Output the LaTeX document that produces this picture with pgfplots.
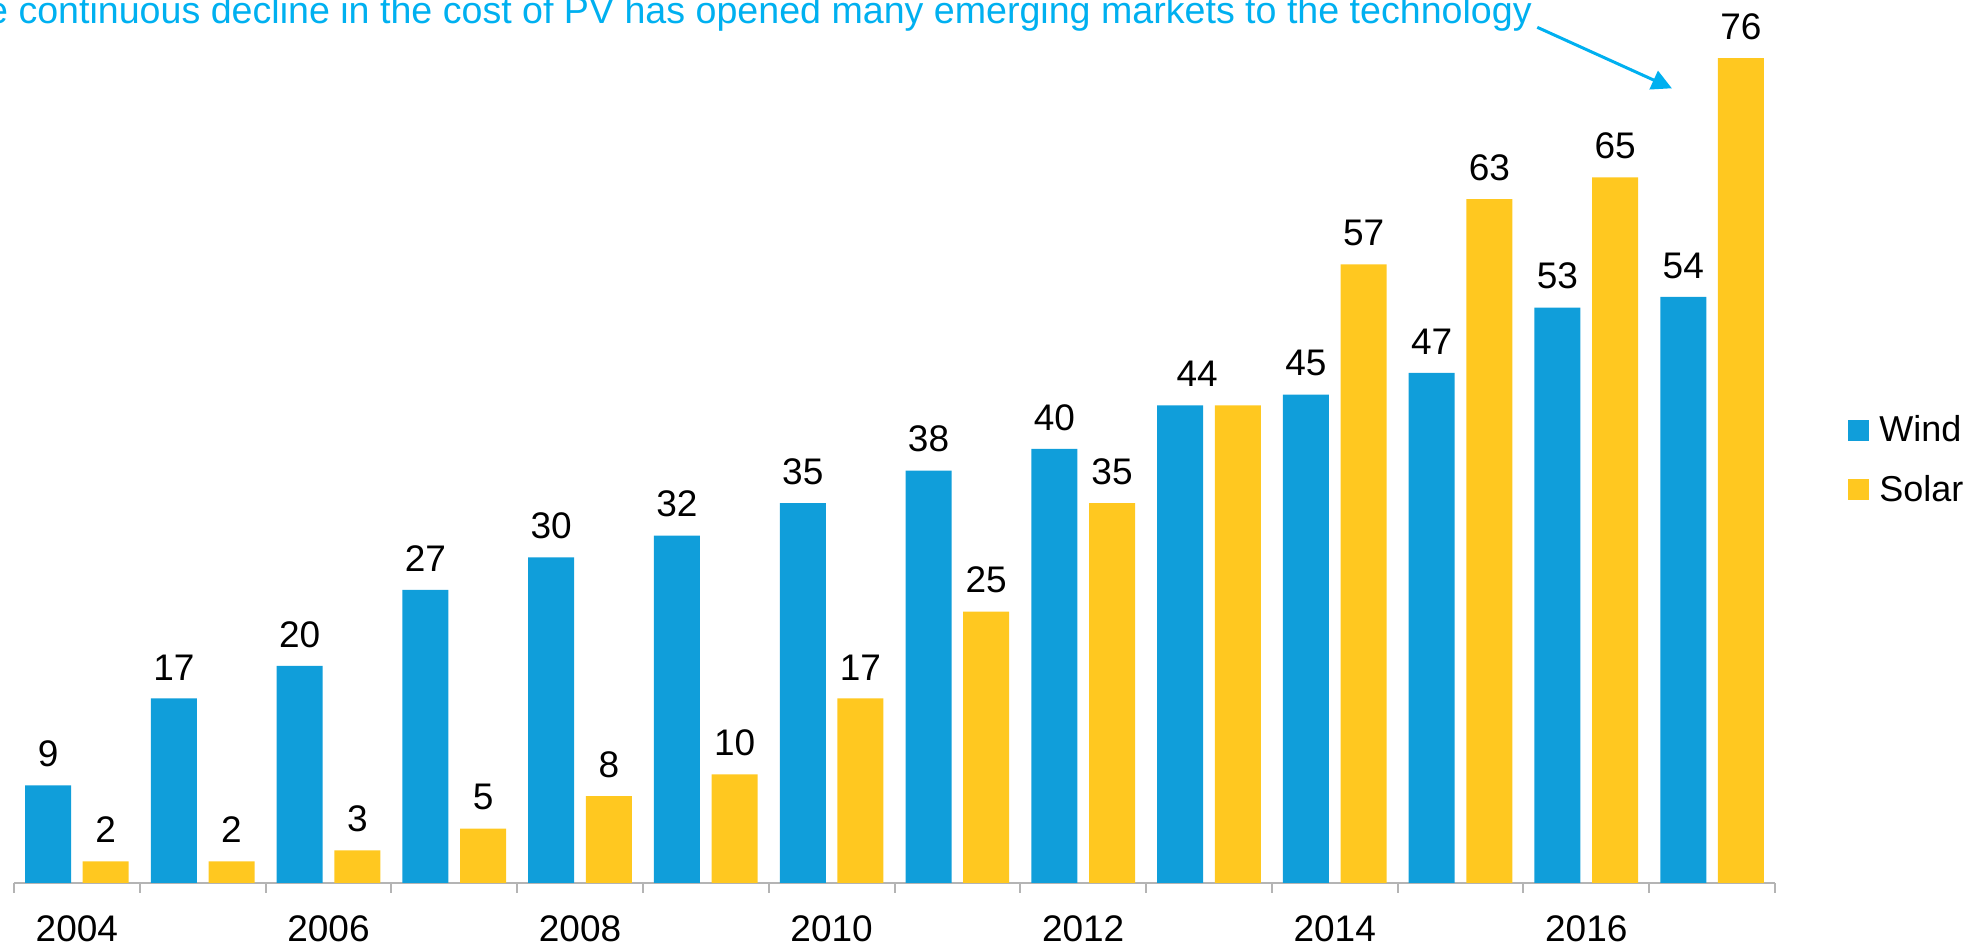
\documentclass[border=0pt]{standalone}
\usepackage{fontspec}
\setmainfont{Liberation Sans}
\usepackage{pgfplots}
\pgfplotsset{compat=1.18}
\usetikzlibrary{arrows.meta}
\definecolor{wind}{RGB}{16,158,218}
\definecolor{solar}{RGB}{255,200,32}
\definecolor{note}{RGB}{0,176,240}
\definecolor{axgray}{RGB}{180,180,180}
\begin{document}
\begin{tikzpicture}
\path[use as bounding box] (-7pt,-31.5pt) rectangle (976pt,441.5pt);
\begin{axis}[
  at={(0pt,0pt)}, anchor=south west,
  scale only axis, width=880.5pt, height=434.2pt,
  xmin=-0.5, xmax=13.5, ymin=0, ymax=80,
  clip=false,
  axis x line*=bottom, axis y line=none,
  axis line style={axgray, line width=1pt, -},
  ybar=5.85pt, bar width=23pt,
  xtick={-0.5,0.5,...,13.5}, xticklabels={},
  tick align=outside, major tick length=5pt,
  tick style={axgray, line width=1pt},
  extra x ticks={0,2,4,6,8,10,12},
  extra x tick labels={\mbox{2004},\mbox{2006},\mbox{2008},\mbox{2010},\mbox{2012},\mbox{2014},\mbox{2016}},
  extra x tick style={major tick length=0pt, tick style={draw=none}},
  xticklabel style={font=\fontsize{18.5}{18.5}\selectfont, inner sep=0pt, anchor=north, yshift=-16pt},
  point meta=explicit symbolic,
  nodes near coords,
  every node near coord/.append style={font=\fontsize{18.5}{18.5}\selectfont, inner sep=0pt, anchor=south, yshift=9pt, text=black},
  legend image code/.code={\fill[#1] (0pt,-5.25pt) rectangle (10.5pt,5.25pt);},
  legend style={draw=none, fill=none, at={(1.0414,0.4871)}, anchor=west, inner sep=0pt,
    font=\fontsize{18}{18}\selectfont, row sep=15pt,
    nodes={inner sep=0pt},
    /tikz/every odd column/.append style={column sep=5pt}},
  legend cell align=left,
]
\addplot[fill=wind, draw=none] coordinates {
 (0,9)[9] (1,17)[17] (2,20)[20] (3,27)[27] (4,30)[30] (5,32)[32] (6,35)[35]
 (7,38)[38] (8,40)[40] (9,44)[\hspace*{17pt}44] (10,45)[45] (11,47)[47] (12,53)[53] (13,54)[54]
};
\addlegendentry{Wind}
\addplot[fill=solar, draw=none] coordinates {
 (0,2)[2] (1,2)[2] (2,3)[3] (3,5)[5] (4,8)[8] (5,10)[10] (6,17)[17]
 (7,25)[25] (8,35)[35] (9,44)[] (10,57)[57] (11,63)[63] (12,65)[65] (13,76)[76]
};
\addlegendentry{Solar}
\node[anchor=base east, text=note, font=\fontsize{18.8}{20}\selectfont, inner sep=0pt]
  at (axis cs:11.57,79.2) {The continuous decline in the cost of PV has opened many emerging markets to the technology};
\draw[note, line width=1.5pt, -{Triangle[length=10pt, width=10pt]}]
  (axis cs:11.61,78.83) -- (axis cs:12.68,73.21);
\end{axis}
\end{tikzpicture}
\end{document}
